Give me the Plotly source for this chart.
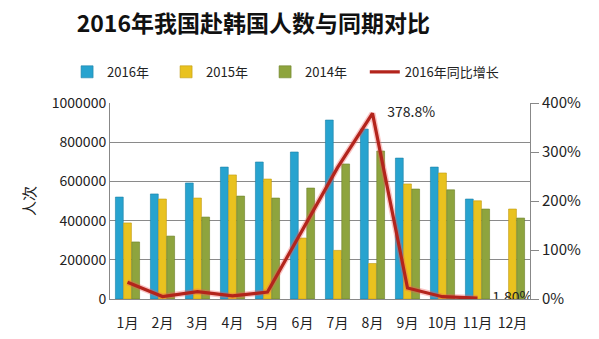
import plotly.graph_objects as go

months = ["1月", "2月", "3月", "4月", "5月", "6月", "7月", "8月", "9月", "10月", "11月", "12月"]
visitors_2016 = [520000, 536000, 592000, 673000, 699000, 750000, 913000, 867000, 719000, 673000, 510000, None]
visitors_2015 = [388000, 510000, 515000, 633000, 612000, 311000, 248000, 181000, 587000, 643000, 501000, 459000]
visitors_2014 = [291000, 321000, 418000, 525000, 515000, 566000, 689000, 755000, 561000, 557000, 459000, 413000]
growth_2016 = [34.0, 5.1, 15.0, 6.3, 14.2, 141.2, 268.1, 378.8, 22.5, 4.7, 1.8, None]
labelled_months = {"8月": "{:.1f}%", "11月": "{:.2f}%"}

FONT = "Noto Sans CJK SC"
growth_text = [labelled_months[m].format(v) if m in labelled_months and v is not None else ""
               for m, v in zip(months, growth_2016)]

fig = go.Figure()
fig.add_trace(go.Bar(x=months, y=visitors_2016, name="2016年",
                     marker=dict(color="#27a3cf", line=dict(color="#1b7fa6", width=0.6))))
fig.add_trace(go.Bar(x=months, y=visitors_2015, name="2015年",
                     marker=dict(color="#e9c21f", line=dict(color="#c09a10", width=0.6))))
fig.add_trace(go.Bar(x=months, y=visitors_2014, name="2014年",
                     marker=dict(color="#8ea43e", line=dict(color="#6c8228", width=0.6))))
# soft halo under the growth line
fig.add_trace(go.Scatter(x=months, y=growth_2016, yaxis="y2", mode="lines",
                         line=dict(color="rgba(240,90,90,0.35)", width=6),
                         showlegend=False, hoverinfo="skip"))
# invisible markers only push the value labels away from the line
fig.add_trace(go.Scatter(x=months, y=growth_2016, yaxis="y2", mode="lines+markers+text",
                         name="2016年同比增长", legend="legend2",
                         line=dict(color="#b3241c", width=3.2),
                         marker=dict(size=22, color="rgba(0,0,0,0)", line=dict(width=0)),
                         text=growth_text, textposition="middle right",
                         textfont=dict(family=FONT, size=14, color="#222")))

legend_common = dict(orientation="h", xref="container", xanchor="left",
                     y=0.788, yref="container", yanchor="middle",
                     font=dict(family=FONT, size=13), bgcolor="rgba(0,0,0,0)")

fig.update_layout(
    width=599, height=339,
    margin=dict(l=110, r=69, t=103, b=40, autoexpand=False),
    paper_bgcolor="white", plot_bgcolor="white",
    font=dict(family=FONT, color="#222"),
    title=dict(text="<b>2016年我国赴韩国人数与同期对比</b>", x=0.423, xanchor="center",
               y=0.928, yanchor="middle", font=dict(family=FONT, size=23, color="#111")),
    bargap=0.3, bargroupgap=0.04, barmode="group",
    legend=dict(x=0.112, entrywidth=54, entrywidthmode="pixels", traceorder="normal",
                **legend_common),
    legend2=dict(x=0.609, **legend_common),
    xaxis=dict(range=[-0.5, len(months) - 0.5], autorange=False,
               showgrid=False, showline=True, linecolor="#888", ticks="outside",
               ticklen=11, tickcolor="rgba(0,0,0,0)",
               tickfont=dict(family=FONT, size=14)),
    yaxis=dict(range=[0, 1000000], dtick=200000, tickformat="d", showgrid=True,
               gridcolor="#8a8a8a", gridwidth=1, showline=True, linecolor="#888",
               tickfont=dict(family=FONT, size=14), zeroline=False,
               title=dict(text="人次", font=dict(family=FONT, size=15), standoff=12)),
    yaxis2=dict(range=[0, 400], dtick=100, ticksuffix="%", overlaying="y", side="right",
                showgrid=False, showline=True, linecolor="#888", ticks="outside",
                ticklen=8, tickcolor="#888", tickfont=dict(family=FONT, size=15),
                zeroline=False),
)
fig.write_html("out.html")
